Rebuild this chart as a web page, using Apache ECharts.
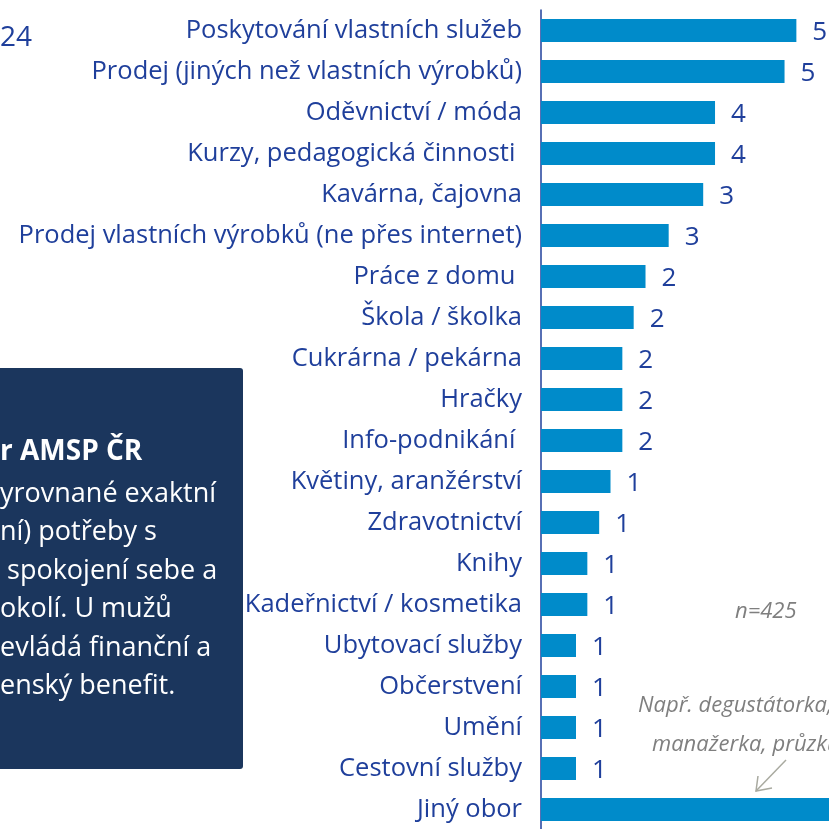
<!DOCTYPE html>
<html>
<head>
<meta charset="utf-8">
<script src="https://cdn.jsdelivr.net/npm/echarts@6/dist/echarts.min.js"></script>
<style>
  html, body { margin: 0; padding: 0; background: #fff; }
  #chart { width: 829px; height: 829px; }
</style>
</head>
<body>
<div id="chart"></div>
<script>
// obory (shora dolu)
let categories = [
    'Poskytování vlastních služeb',
    'Prodej (jiných než vlastních výrobků)',
    'Oděvnictví / móda',
    'Kurzy, pedagogická činnosti ',
    'Kavárna, čajovna',
    'Prodej vlastních výrobků (ne přes internet)',
    'Práce z domu ',
    'Škola / školka',
    'Cukrárna / pekárna',
    'Hračky',
    'Info-podnikání ',
    'Květiny, aranžérství',
    'Zdravotnictví',
    'Knihy',
    'Kadeřnictví / kosmetika',
    'Ubytovací služby',
    'Občerstvení',
    'Umění',
    'Cestovní služby',
    'Jiný obor'
];
// podíl v % (popisky zaokrouhlené)
let values = [5.18, 4.94, 3.53, 3.53, 3.29, 2.59, 2.12, 1.88, 1.65, 1.65, 1.65, 1.41, 1.18, 0.94, 0.94, 0.71, 0.71, 0.71, 0.71, 24];

let boxLines = [
    'yrovnané exaktní',
    'ní) potřeby s',
    ' spokojení sebe a',
    'okolí. U mužů',
    'evládá finanční a',
    'enský benefit.'
];

let blue = '#1f3f9b';
let gray = '#7f7f7f';
let myChart = echarts.init(document.getElementById('chart'));

function txt(x, y, text, color, size, extra) {
    return {
        type: 'text', x: x, y: y,
        style: Object.assign({
            text: text, fill: color, fontSize: size, fontFamily: 'Open Sans', verticalAlign: 'middle'
        }, extra || {})
    };
}

let graphics = [
    txt(0, 38, '24', blue, 28),
    // tmavy box vlevo
    { type: 'rect', shape: { x: -20, y: 368, width: 263, height: 401, r: 3 }, style: { fill: '#1b365d' } },
    txt(0, 452, 'r AMSP ČR', '#fff', 28, { fontWeight: 'bold' }),
    // n a poznamka
    txt(735, 612, 'n=425', gray, 22, { fontStyle: 'italic' }),
    txt(638, 706, 'Např. degustátorka, ', gray, 22, { fontStyle: 'italic' }),
    txt(652, 745, 'manažerka, průzkum', gray, 22, { fontStyle: 'italic' }),
    { type: 'polyline', shape: { points: [[786, 760], [756, 791]] }, style: { stroke: '#a9aaa0', lineWidth: 1.5, fill: null } },
    { type: 'polyline', shape: { points: [[758, 776], [756, 791], [772, 788]] }, style: { stroke: '#a9aaa0', lineWidth: 1.5, fill: null } }
];
for (let i = 0; i < boxLines.length; i++) {
    graphics.push(txt(0, 494 + i * 38.5, boxLines[i], '#fff', 27));
}

option = {
    animation: false,
    grid: { left: 541, top: 10, bottom: -1, width: 49.3 * 30, outerBoundsMode: 'none', containLabel: false },
    xAxis: {
        type: 'value',
        min: 0,
        max: 30,
        show: false
    },
    yAxis: {
        type: 'category',
        data: categories,
        inverse: true,
        axisLine: { lineStyle: { color: blue, width: 1.5 } },
        axisTick: { lineStyle: { color: blue, width: 1.5 }, length: 8 },
        axisLabel: {
            color: blue,
            fontFamily: 'Open Sans',
            fontSize: 25.5,
            margin: 19
        }
    },
    series: [{
        type: 'bar',
        data: values,
        barWidth: '56%',
        itemStyle: { color: '#008bca' },
        label: {
            show: true,
            position: 'right',
            distance: 16,
            color: blue,
            fontFamily: 'Open Sans',
            fontSize: 26,
            offset: [0, 2],
            formatter: function (p) { return Math.round(p.value); }
        }
    }],
    graphic: graphics
};
myChart.setOption(option);
</script>
</body>
</html>
